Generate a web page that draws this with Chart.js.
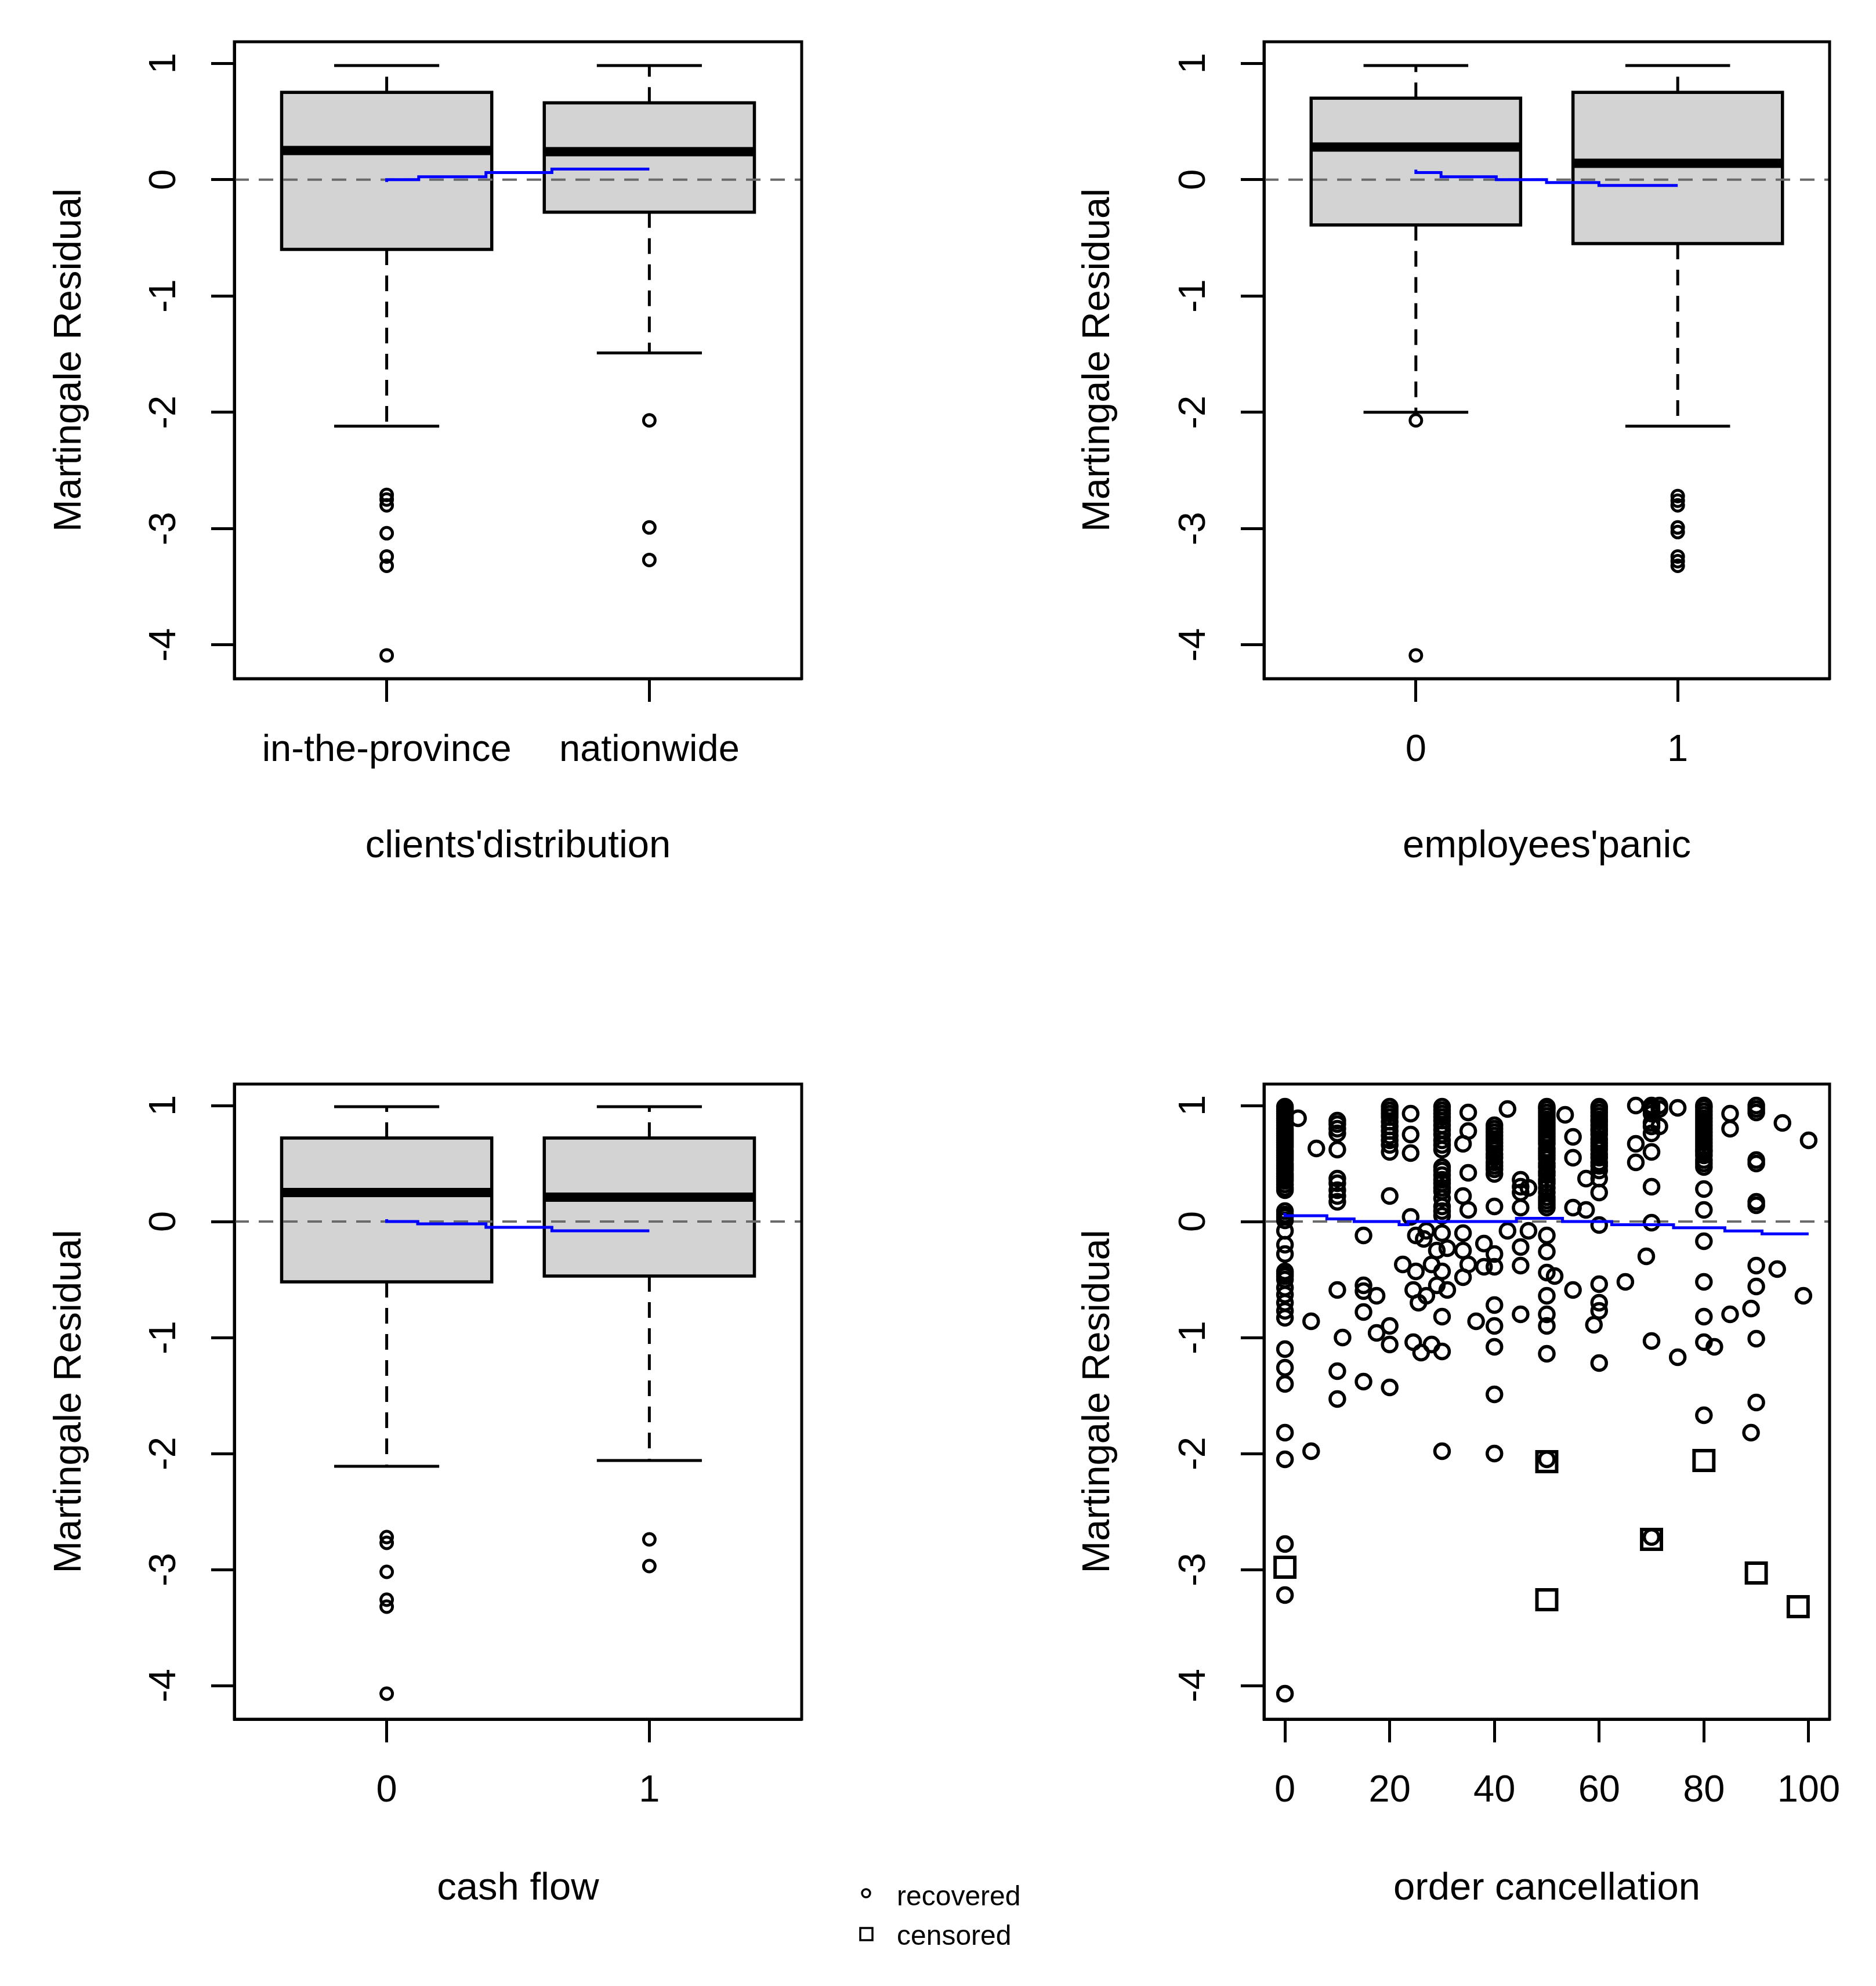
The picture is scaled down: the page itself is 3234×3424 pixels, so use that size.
<!DOCTYPE html>
<html><head><meta charset="utf-8">
<script src="https://cdn.jsdelivr.net/npm/chart.js@4.4.1/dist/chart.umd.min.js"></script>
<style>
html,body{margin:0;padding:0;background:#fff;}
#wrap{position:relative;width:3234px;height:3424px;background:#fff;}
canvas{position:absolute;left:0;top:0;}
</style></head><body><div id="wrap">
<canvas id="c1" width="3234" height="3424"></canvas>
<canvas id="c2" width="3234" height="3424"></canvas>
<canvas id="c3" width="3234" height="3424"></canvas>
<canvas id="c4" width="3234" height="3424"></canvas>
</div>
<script>
// ---------------- DATA ----------------
const yTickVals = [-4, -3, -2, -1, 0, 1];
const yTitle = 'Martingale Residual';

// clients' distribution
const clientsCats = ['in-the-province', 'nationwide'];
const clientsLow  = [-2.12, -1.49];
const clientsQ1   = [-0.60, -0.28];
const clientsMed  = [0.25, 0.24];
const clientsQ3   = [0.75, 0.66];
const clientsHigh = [0.98, 0.98];
const clientsOut  = [[-2.71, -2.75, -2.80, -3.04, -3.24, -3.32, -4.09], [-2.07, -2.99, -3.27]];
const clientsSmoothX = [1, 1.122, 1.378, 1.629, 1.878, 2];
const clientsSmoothY = [-0.02, 0, 0.025, 0.06, 0.09, 0.09];

// employees' panic
const panicCats = ['0', '1'];
const panicLow  = [-2.0, -2.12];
const panicQ1   = [-0.39, -0.55];
const panicMed  = [0.28, 0.14];
const panicQ3   = [0.70, 0.75];
const panicHigh = [0.98, 0.98];
const panicOut  = [[-2.07, -4.09], [-2.72, -2.76, -2.80, -2.99, -3.03, -3.24, -3.28, -3.32]];
const panicSmoothX = [1, 1.096, 1.307, 1.499, 1.699, 1.904, 2];
const panicSmoothY = [0.085, 0.06, 0.025, 0, -0.025, -0.05, -0.05];

// cash flow
const cashCats = ['0', '1'];
const cashLow  = [-2.11, -2.06];
const cashQ1   = [-0.52, -0.47];
const cashMed  = [0.25, 0.21];
const cashQ3   = [0.72, 0.72];
const cashHigh = [0.99, 0.99];
const cashOut  = [[-2.72, -2.77, -3.02, -3.26, -3.32, -4.07], [-2.74, -2.97]];
const cashSmoothX = [1, 1.118, 1.378, 1.629, 1.878, 2];
const cashSmoothY = [0.02, 0, -0.02, -0.05, -0.08, -0.08];

// order cancellation (recovered, grouped by x value)
const orderTicks = [0, 20, 40, 60, 80, 100];
const recoveredX = [0, 2.5, 5, 6, 10, 11, 15, 17.5, 20, 22.5, 24, 24.5, 25, 25.5, 26, 26.5, 27, 28, 29, 30, 31, 34, 35, 36.5, 38, 40, 42.5, 45, 46.5, 50, 51.5, 53.5, 55, 57.5, 59, 60, 65, 67, 69, 70, 71.5, 75, 80, 82, 85, 89, 90, 94, 95, 99, 100];
const recoveredY = [
  [0.99, 0.97, 0.95, 0.93, 0.91, 0.89, 0.87, 0.85, 0.83, 0.8, 0.78, 0.76, 0.74, 0.72, 0.7, 0.68, 0.66, 0.64, 0.61, 0.59, 0.57, 0.55, 0.53, 0.5, 0.48, 0.46, 0.44, 0.41, 0.39, 0.37, 0.35, 0.32, 0.29, 0.27, 0.09, 0.06, 0.04, 0.01, -0.08, -0.2, -0.28, -0.43, -0.45, -0.47, -0.5, -0.57, -0.63, -0.7, -0.77, -0.83, -1.1, -1.26, -1.4, -1.82, -2.05, -2.78, -3.22, -4.07],
  [0.89],
  [-0.86, -1.98],
  [0.63],
  [0.87, 0.84, 0.8, 0.76, 0.62, 0.37, 0.33, 0.27, 0.22, 0.17, -0.59, -1.29, -1.53],
  [-1.0],
  [-0.12, -0.55, -0.6, -0.78, -1.38],
  [-0.64, -0.96],
  [0.99, 0.96, 0.93, 0.9, 0.86, 0.82, 0.78, 0.74, 0.7, 0.66, 0.6, 0.22, -0.9, -1.06, -1.43],
  [-0.37],
  [0.93, 0.75, 0.59, 0.04],
  [-0.59, -1.04],
  [-0.12, -0.43],
  [-0.7],
  [-1.13],
  [-0.15],
  [-0.08, -0.64],
  [-0.37, -1.06],
  [-0.25, -0.55],
  [0.99, 0.96, 0.93, 0.9, 0.87, 0.83, 0.79, 0.75, 0.7, 0.66, 0.62, 0.47, 0.44, 0.4, 0.36, 0.33, 0.29, 0.26, 0.2, 0.13, 0.09, 0.05, -0.1, -0.43, -0.82, -1.12, -1.98],
  [-0.23, -0.59],
  [0.67, 0.22, -0.1, -0.25, -0.48],
  [0.94, 0.78, 0.42, 0.1, -0.37],
  [-0.86],
  [-0.19, -0.39],
  [0.83, 0.8, 0.77, 0.74, 0.71, 0.68, 0.65, 0.62, 0.58, 0.55, 0.51, 0.48, 0.45, 0.41, 0.13, -0.28, -0.39, -0.72, -0.9, -1.08, -1.49, -2.0],
  [0.97, -0.08],
  [0.36, 0.3, 0.25, 0.12, -0.22, -0.38, -0.8],
  [0.29, -0.08],
  [0.99, 0.97, 0.94, 0.91, 0.88, 0.85, 0.82, 0.79, 0.76, 0.73, 0.7, 0.67, 0.63, 0.6, 0.57, 0.54, 0.5, 0.47, 0.43, 0.4, 0.36, 0.33, 0.29, 0.25, 0.21, 0.18, 0.15, 0.12, -0.12, -0.26, -0.44, -0.64, -0.8, -0.9, -1.14, -2.05],
  [-0.47],
  [0.92],
  [0.73, 0.55, 0.12, -0.59],
  [0.37, 0.1],
  [-0.89],
  [0.99, 0.97, 0.94, 0.91, 0.88, 0.86, 0.83, 0.8, 0.78, 0.75, 0.71, 0.68, 0.65, 0.62, 0.58, 0.55, 0.51, 0.48, 0.44, 0.37, 0.25, -0.03, -0.54, -0.7, -0.77, -1.22],
  [-0.52],
  [1.0, 0.67, 0.51],
  [-0.3],
  [1.0, 0.98, 0.96, 0.93, 0.85, 0.82, 0.76, 0.6, 0.3, -0.01, -1.03, -2.72],
  [1.0, 0.97, 0.82],
  [0.98, -1.17],
  [1.0, 0.98, 0.95, 0.92, 0.89, 0.86, 0.83, 0.8, 0.77, 0.74, 0.71, 0.68, 0.65, 0.62, 0.6, 0.57, 0.53, 0.5, 0.47, 0.28, 0.1, -0.17, -0.52, -0.82, -1.04, -1.67],
  [-1.08],
  [0.93, 0.8, -0.8],
  [-0.75, -1.82],
  [1.0, 0.97, 0.94, 0.53, 0.5, 0.17, 0.14, -0.38, -0.56, -1.01, -1.56],
  [-0.41],
  [0.85],
  [-0.64],
  [0.7]
];
const censoredX = [0, 50, 50, 70, 80, 90, 98];
const censoredY = [-2.98, -2.07, -3.26, -2.74, -2.06, -3.03, -3.32];
const orderSmoothX = [0, 8, 13.2, 21.8, 23.5, 44.2, 53, 62.4, 74.2, 84, 91.1, 96.9, 100];
const orderSmoothY = [0.074, 0.05, 0.023, 0, -0.027, 0, 0.027, 0, -0.027, -0.054, -0.081, -0.106, -0.106];

const legendLabels = ['recovered', 'censored'];
const zeroLine = 0;

// ---------------- DRAWING ----------------
Chart.defaults.font.family = "'Liberation Sans', Arial, sans-serif";
Chart.defaults.color = '#000';
const FS = 65, FT = 67;
const YMIN = -4.29, YMAX = 1.185;

function makePlugin(cfg) {
  return {
    id: 'rstyle',
    beforeDatasetsDraw(chart) {
      const {ctx, chartArea: a, scales: {x, y}} = chart;
      ctx.save();
      if (cfg.box) {
        const b = cfg.box;
        for (let i = 0; i < b.med.length; i++) {
          const c = i + 1;
          const xc = x.getPixelForValue(c);
          const xl = x.getPixelForValue(c - 0.4), xr = x.getPixelForValue(c + 0.4);
          const sl = x.getPixelForValue(c - 0.2), sr = x.getPixelForValue(c + 0.2);
          const yLo = y.getPixelForValue(b.low[i]), yQ1 = y.getPixelForValue(b.q1[i]);
          const yMd = y.getPixelForValue(b.med[i]), yQ3 = y.getPixelForValue(b.q3[i]);
          const yHi = y.getPixelForValue(b.high[i]);
          ctx.strokeStyle = '#000';
          ctx.lineWidth = 5;
          ctx.setLineDash([27, 18]);
          ctx.beginPath();
          ctx.moveTo(xc, yQ3); ctx.lineTo(xc, yHi);
          ctx.moveTo(xc, yQ1); ctx.lineTo(xc, yLo);
          ctx.stroke();
          ctx.setLineDash([]);
          ctx.beginPath();
          ctx.moveTo(sl, yHi); ctx.lineTo(sr, yHi);
          ctx.moveTo(sl, yLo); ctx.lineTo(sr, yLo);
          ctx.stroke();
          ctx.fillStyle = '#d3d3d3';
          ctx.fillRect(xl, yQ3, xr - xl, yQ1 - yQ3);
          ctx.lineWidth = 5.5;
          ctx.strokeRect(xl, yQ3, xr - xl, yQ1 - yQ3);
          ctx.lineWidth = 16;
          ctx.beginPath();
          ctx.moveTo(xl + 2, yMd); ctx.lineTo(xr - 2, yMd);
          ctx.stroke();
        }
      }
      const y0 = y.getPixelForValue(zeroLine);
      ctx.strokeStyle = '#6a6a6a';
      ctx.lineWidth = 4;
      ctx.setLineDash([25, 17]);
      ctx.beginPath();
      ctx.moveTo(a.left, y0); ctx.lineTo(a.right, y0);
      ctx.stroke();
      ctx.restore();
    },
    afterDraw(chart) {
      const {ctx, chartArea: a, scales: {y}} = chart;
      ctx.save();
      ctx.strokeStyle = '#000';
      ctx.lineWidth = 5;
      ctx.strokeRect(a.left, a.top, a.right - a.left, a.bottom - a.top);
      ctx.fillStyle = '#000';
      ctx.font = FS + "px 'Liberation Sans', Arial, sans-serif";
      ctx.textAlign = 'center';
      ctx.textBaseline = 'middle';
      y.ticks.forEach(t => {
        ctx.save();
        ctx.translate(a.left - 120, y.getPixelForValue(t.value));
        ctx.rotate(-Math.PI / 2);
        ctx.fillText(String(t.value), 0, 0);
        ctx.restore();
      });
      if (cfg.legend) {
        const L = cfg.legend;
        ctx.font = "48px 'Liberation Sans', Arial, sans-serif";
        ctx.textAlign = 'left';
        ctx.lineWidth = 3.5;
        ctx.beginPath(); ctx.arc(L.x, L.y1, 7, 0, Math.PI * 2); ctx.stroke();
        ctx.strokeRect(L.x - 10, L.y2 - 10, 21, 21);
        ctx.fillText(legendLabels[0], L.tx, L.t1);
        ctx.fillText(legendLabels[1], L.tx, L.t2);
      }
      ctx.restore();
    }
  };
}

function axisCommon() {
  return {
    grid: {display: true, drawOnChartArea: false, drawTicks: true, tickLength: 40, tickWidth: 5, tickColor: '#000'},
    border: {display: true, color: '#000', width: 5}
  };
}

function makeChart(id, L, xcfg, datasets, plugin) {
  const base = axisCommon();
  return new Chart(document.getElementById(id), {
    type: 'scatter',
    data: {datasets},
    options: {
      responsive: false, animation: false, devicePixelRatio: 1, events: [],
      layout: {padding: {left: L.padL, right: L.padR, top: L.padT, bottom: L.padB}},
      plugins: {legend: {display: false}, tooltip: {enabled: false}},
      scales: {
        x: Object.assign({}, base, {
          type: 'linear', position: 'bottom', min: xcfg.min, max: xcfg.max,
          afterBuildTicks: s => { s.ticks = xcfg.ticks.map(v => ({value: v})); },
          afterFit: s => { s.height = L.xh; },
          ticks: {autoSkip: false, maxRotation: 0, minRotation: 0, padding: 45, color: '#000', font: {size: FS},
                  callback: xcfg.label},
          title: {display: true, text: xcfg.title, color: '#000', font: {size: FT}, padding: {top: 0, bottom: L.xtp}}
        }),
        y: Object.assign({}, base, {
          type: 'linear', position: 'left', min: YMIN, max: YMAX,
          afterBuildTicks: s => { s.ticks = yTickVals.map(v => ({value: v})); },
          afterFit: s => { s.width = L.yw; },
          ticks: {display: false},
          title: {display: true, text: yTitle, color: '#000', font: {size: FT}, padding: {top: L.ytp, bottom: 0}}
        })
      }
    },
    plugins: [plugin]
  });
}

function boxDatasets(outs, sx, sy) {
  const pts = [];
  outs.forEach((arr, i) => arr.forEach(v => pts.push({x: i + 1, y: v})));
  return [
    {data: sx.map((v, i) => ({x: v, y: sy[i]})), showLine: true, stepped: 'after', borderColor: '#0000ff',
     borderWidth: 5, pointRadius: 0, fill: false},
    {data: pts, pointStyle: 'circle', pointRadius: 10, borderWidth: 5, borderColor: '#000',
     backgroundColor: 'rgba(0,0,0,0)'}
  ];
}

const catX = cats => ({min: 0.42, max: 2.58, ticks: cats.map((c, i) => i + 1), label: v => cats[Math.round(v) - 1]});

const LT = {padL: 0, padR: 1852, padT: 72, padB: 1712, yw: 404, xh: 542, xtp: 212, ytp: 80};
const RT = {padL: 1617, padR: 80, padT: 72, padB: 1712, yw: 562, xh: 542, xtp: 212, ytp: 236};
const LB = {padL: 0, padR: 1852, padT: 1869, padB: 0, yw: 404, xh: 460, xtp: 127, ytp: 80};
const RB = {padL: 1617, padR: 80, padT: 1869, padB: 0, yw: 562, xh: 460, xtp: 127, ytp: 236};

makeChart('c1', LT, Object.assign(catX(clientsCats), {title: "clients'distribution"}),
  boxDatasets(clientsOut, clientsSmoothX, clientsSmoothY),
  makePlugin({box: {low: clientsLow, q1: clientsQ1, med: clientsMed, q3: clientsQ3, high: clientsHigh}}));

makeChart('c2', RT, Object.assign(catX(panicCats), {title: "employees'panic"}),
  boxDatasets(panicOut, panicSmoothX, panicSmoothY),
  makePlugin({box: {low: panicLow, q1: panicQ1, med: panicMed, q3: panicQ3, high: panicHigh}}));

makeChart('c3', LB, Object.assign(catX(cashCats), {title: 'cash flow'}),
  boxDatasets(cashOut, cashSmoothX, cashSmoothY),
  makePlugin({box: {low: cashLow, q1: cashQ1, med: cashMed, q3: cashQ3, high: cashHigh}}));

const recPts = [];
recoveredX.forEach((xv, i) => recoveredY[i].forEach(yv => recPts.push({x: xv, y: yv})));
const cenPts = censoredX.map((xv, i) => ({x: xv, y: censoredY[i]}));

makeChart('c4', RB, {min: -4, max: 104, ticks: orderTicks, label: v => String(v), title: 'order cancellation'},
  [
    {data: orderSmoothX.map((v, i) => ({x: v, y: orderSmoothY[i]})), showLine: true, stepped: 'after',
     borderColor: '#0000ff', borderWidth: 5, pointRadius: 0, fill: false},
    {label: legendLabels[0], data: recPts, pointStyle: 'circle', pointRadius: 12.5, borderWidth: 5.5,
     borderColor: '#000', backgroundColor: 'rgba(0,0,0,0)'},
    {label: legendLabels[1], data: cenPts, pointStyle: 'rect', pointRadius: 24, borderWidth: 6,
     borderColor: '#000', backgroundColor: 'rgba(0,0,0,0)'}
  ],
  makePlugin({legend: {x: 1493, y1: 3264, y2: 3334, tx: 1546, t1: 3272, t2: 3340}}));
</script>
</body></html>
